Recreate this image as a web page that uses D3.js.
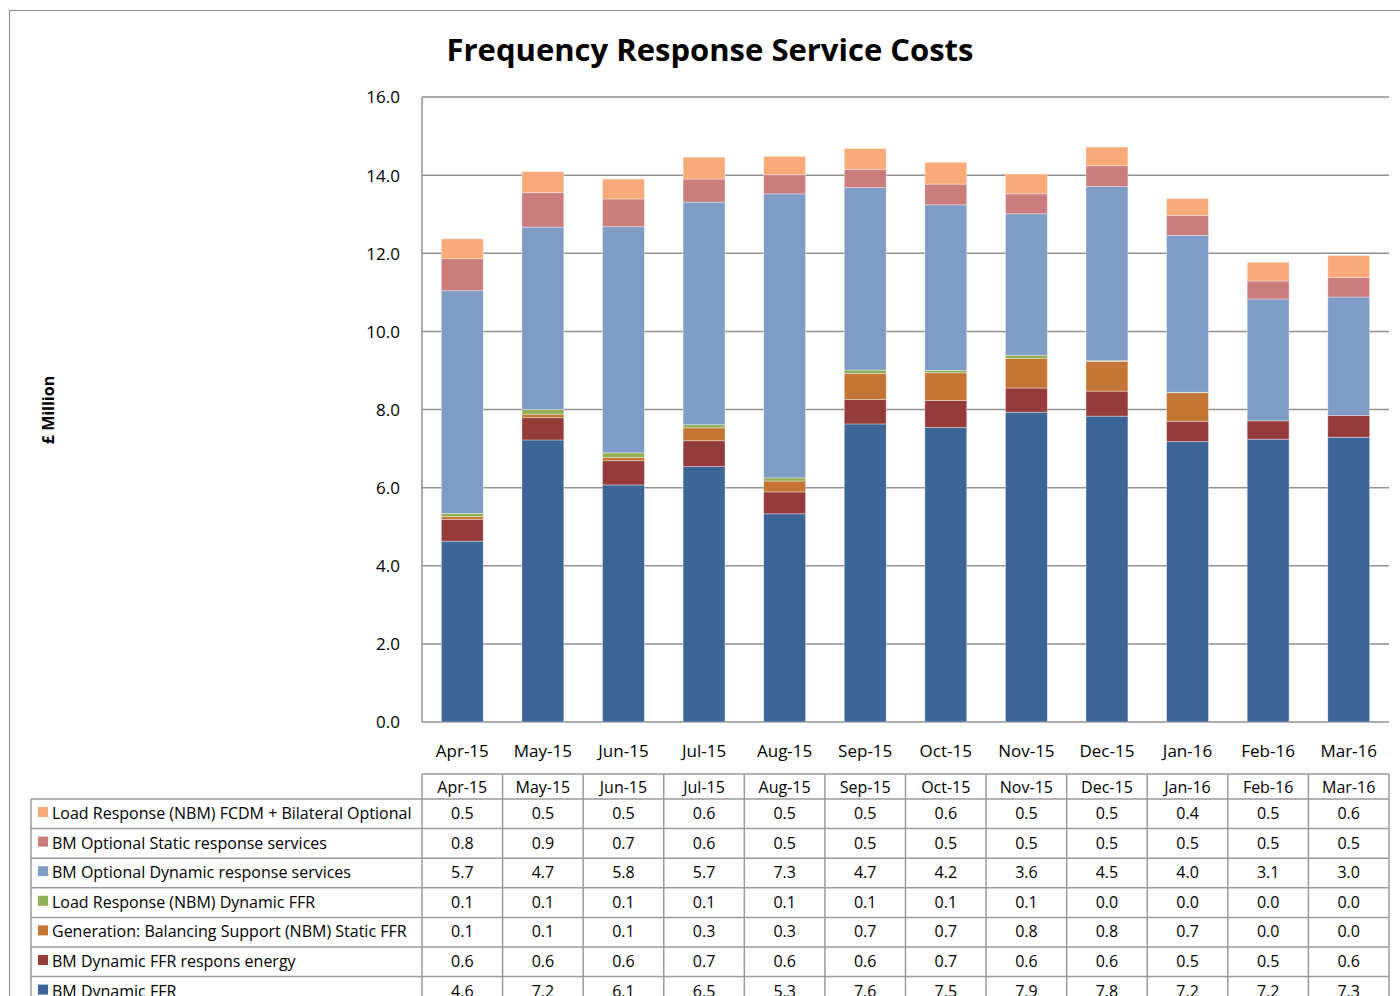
<!DOCTYPE html>
<html>
<head>
<meta charset="utf-8">
<script src="https://cdn.jsdelivr.net/npm/d3@7"></script>
<style>
  body { margin: 0; background: #fff; }
  text { font-family: "Open Sans", "Liberation Sans", sans-serif; fill: #000; }
</style>
</head>
<body>
<div id="c"></div>
<script>
"use strict";

// months on the x axis
const months = ["Apr-15","May-15","Jun-15","Jul-15","Aug-15","Sep-15","Oct-15","Nov-15","Dec-15","Jan-16","Feb-16","Mar-16"]

// series, stacked bottom to top (values in £ million)
const seriesNames = [
    "BM Dynamic FFR",
    "BM Dynamic FFR respons energy",
    "Generation: Balancing Support (NBM) Static FFR",
    "Load Response (NBM) Dynamic FFR",
    "BM Optional Dynamic response services",
    "BM Optional Static response services",
    "Load Response (NBM) FCDM + Bilateral Optional"
]
const seriesColors = ["#3d6598","#953b3b","#c47533","#8fb055","#7f9cc7","#cb7c7c","#f8ab79"]

const bmDynamic      = [4.63, 7.22, 6.07, 6.54, 5.33, 7.63, 7.54, 7.93, 7.83, 7.18, 7.24, 7.29]
const bmDynEnergy    = [0.56, 0.57, 0.62, 0.66, 0.56, 0.63, 0.69, 0.62, 0.64, 0.52, 0.47, 0.56]
const genStatic      = [0.07, 0.09, 0.08, 0.33, 0.28, 0.66, 0.71, 0.76, 0.76, 0.73, 0.00, 0.00]
const loadDynamic    = [0.08, 0.12, 0.12, 0.08, 0.08, 0.09, 0.06, 0.08, 0.02, 0.01, 0.00, 0.00]
const bmOptDynamic   = [5.70, 4.67, 5.79, 5.70, 7.27, 4.67, 4.24, 3.62, 4.46, 4.02, 3.12, 3.03]
const bmOptStatic    = [0.82, 0.88, 0.71, 0.59, 0.49, 0.46, 0.53, 0.51, 0.53, 0.51, 0.46, 0.50]
const loadFcdm       = [0.51, 0.54, 0.51, 0.56, 0.47, 0.54, 0.56, 0.51, 0.48, 0.43, 0.48, 0.56]

const seriesValues = [bmDynamic, bmDynEnergy, genStatic, loadDynamic, bmOptDynamic, bmOptStatic, loadFcdm]
const yTicks = [0,2,4,6,8,10,12,14,16]

window.onload = function() {
    const W = 1400, H = 996
    const plot = {left: 422, right: 1389, top: 97, bottom: 722}

    const svg = d3.select('#c').append('svg')
        .attr('width', W).attr('height', H)

    // outer chart frame
    svg.append('rect')
        .attr('x', 9.5).attr('y', 10.5)
        .attr('width', 1420).attr('height', 1100)
        .attr('fill', 'none').attr('stroke', '#8c8c8c').attr('stroke-width', 1)

    svg.append('text')
        .attr('x', 710).attr('y', 61)
        .attr('text-anchor', 'middle')
        .style('font-size', '31px').style('font-weight', 'bold')
        .text("Frequency Response Service Costs")

    const xScale = d3.scaleBand().domain(months)
        .range([plot.left, plot.right]).paddingInner(0.48).paddingOuter(0.24)
    const yScale = d3.scaleLinear().domain([0,16]).range([plot.bottom, plot.top])

    // gridlines
    svg.append('g').selectAll('line').data(yTicks).enter().append('line')
        .attr('x1', plot.left).attr('x2', plot.right)
        .attr('y1', d => yScale(d)).attr('y2', d => yScale(d))
        .attr('stroke', '#8f8f8f').attr('stroke-width', 1.5)

    svg.append('line')
        .attr('x1', plot.left).attr('x2', plot.left)
        .attr('y1', plot.top).attr('y2', plot.bottom)
        .attr('stroke', '#8f8f8f').attr('stroke-width', 1.5)

    // y axis labels
    const yAxis = svg.append('g')
        .attr('transform', 'translate(' + (plot.left - 19) + ',0)')
        .call(d3.axisLeft(yScale).tickValues(yTicks).tickSize(0).tickFormat(d3.format(".1f")))
    yAxis.select('.domain').remove()
    yAxis.selectAll('text').style('font-size', '17px').attr('dy', '0.35em')
        .style('font-family', '"Open Sans", sans-serif')

    svg.append('text')
        .attr('transform', 'translate(54,410) rotate(-90)')
        .attr('text-anchor', 'middle')
        .style('font-size', '16px').style('font-weight', 'bold')
        .text("£ Million")

    // stacked bars
    const rows = months.map((m, i) => {
        let r = {month: m}
        seriesNames.forEach((s, k) => r[s] = seriesValues[k][i])
        return r
    })
    const stacked = d3.stack().keys(seriesNames)(rows)

    svg.append('g').selectAll('g').data(stacked).enter().append('g')
        .attr('fill', (d, k) => seriesColors[k])
        .selectAll('rect').data(d => d).enter().append('rect')
            .attr('x', d => xScale(d.data.month))
            .attr('width', xScale.bandwidth())
            .attr('y', d => yScale(d[1]))
            .attr('height', d => yScale(d[0]) - yScale(d[1]))
            .attr('stroke', 'rgba(255,255,255,0.45)').attr('stroke-width', 0.8)

    // x labels
    svg.append('g').selectAll('text').data(months).enter().append('text')
        .attr('x', d => xScale(d) + xScale.bandwidth() / 2)
        .attr('y', 757)
        .attr('text-anchor', 'middle')
        .style('font-size', '17px')
        .text(d => d)

    // data table
    const colW = (plot.right - plot.left) / months.length
    const tTop = 774, hdrH = 25, rowH = 29.6
    const labelLeft = 31
    const grid = '#9a9a9a'
    const table = svg.append('g')

    table.append('g').selectAll('text').data(months).enter().append('text')
        .attr('x', (d, i) => plot.left + colW * (i + 0.5))
        .attr('y', tTop + 19)
        .attr('text-anchor', 'middle')
        .style('font-size', '16px')
        .text(d => d)

    const tableRows = seriesNames.map((s, k) => ({name: s, color: seriesColors[k], values: seriesValues[k]})).reverse()

    tableRows.forEach((r, j) => {
        const y0 = tTop + hdrH + j * rowH
        table.append('rect')
            .attr('x', labelLeft + 7).attr('y', y0 + 8)
            .attr('width', 10).attr('height', 10)
            .attr('fill', r.color)
        table.append('text')
            .attr('x', labelLeft + 21).attr('y', y0 + 20)
            .style('font-size', '16px')
            .text(r.name)
        table.append('g').selectAll('text').data(r.values).enter().append('text')
            .attr('x', (d, i) => plot.left + colW * (i + 0.5))
            .attr('y', y0 + 20)
            .attr('text-anchor', 'middle')
            .style('font-size', '16px')
            .text(d => d.toFixed(1))
    })

    const tBottom = tTop + hdrH + tableRows.length * rowH
    // horizontal lines
    const hLines = [tTop].concat(d3.range(tableRows.length + 1).map(j => tTop + hdrH + j * rowH))
    table.append('g').selectAll('line').data(hLines).enter().append('line')
        .attr('x1', (d, j) => j === 0 ? plot.left : labelLeft)
        .attr('x2', plot.right)
        .attr('y1', d => d).attr('y2', d => d)
        .attr('stroke', grid).attr('stroke-width', 1.5)
    // vertical lines
    const vLines = d3.range(months.length + 1).map(i => plot.left + colW * i)
    table.append('g').selectAll('line').data(vLines).enter().append('line')
        .attr('x1', d => d).attr('x2', d => d)
        .attr('y1', tTop).attr('y2', tBottom)
        .attr('stroke', grid).attr('stroke-width', 1.5)
    table.append('line')
        .attr('x1', labelLeft).attr('x2', labelLeft)
        .attr('y1', tTop + hdrH).attr('y2', tBottom)
        .attr('stroke', grid).attr('stroke-width', 1.5)
}
</script>
</body>
</html>
